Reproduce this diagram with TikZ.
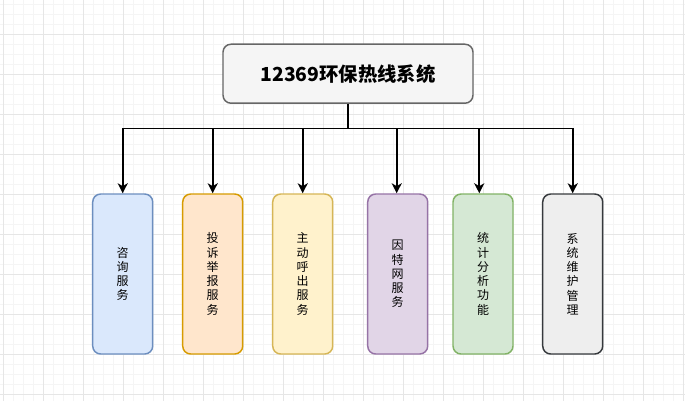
\documentclass[tikz,border=0pt]{standalone}
\usepackage{fontspec}
\newfontfamily\cjk{Noto Sans CJK SC}
\usetikzlibrary{arrows.meta}
\definecolor{topfill}{HTML}{F5F5F5}\definecolor{topline}{HTML}{666666}
\definecolor{bfill}{HTML}{DAE8FC}\definecolor{bline}{HTML}{6C8EBF}
\definecolor{ofill}{HTML}{FFE6CC}\definecolor{oline}{HTML}{D79B00}
\definecolor{yfill}{HTML}{FFF2CC}\definecolor{yline}{HTML}{D6B656}
\definecolor{pfill}{HTML}{E1D5E7}\definecolor{pline}{HTML}{9673A6}
\definecolor{gfill}{HTML}{D5E8D4}\definecolor{gline}{HTML}{82B366}
\definecolor{kfill}{HTML}{EEEEEE}\definecolor{kline}{HTML}{36393D}
\definecolor{gridminor}{HTML}{F5F5F5}\definecolor{gridmajor}{HTML}{E6E6E6}
\tikzset{
  topbox/.style={draw=topline, fill=topfill, line width=1.1pt, rounded corners=6pt,
    minimum width=187.5pt, minimum height=44.25pt, inner sep=0pt,
    font=\cjk\bfseries\fontsize{14.5}{17}\selectfont},
  subbox/.style={line width=1.1pt, rounded corners=6pt,
    minimum width=45pt, minimum height=120pt, inner sep=0pt, align=center,
    font=\cjk\fontsize{9}{10.7}\selectfont},
  link/.style={line width=1.4pt, black},
  arr/.style={link, -{Stealth[length=7.5pt,width=7.5pt,inset=2.2pt]}}
}
\begin{document}
\begin{tikzpicture}[x=0.75pt,y=-0.75pt]
\useasboundingbox (0,0) rectangle (685,401);
\fill[white] (0,0) rectangle (685,401);
\foreach \x in {3,13,...,683} \draw[gridminor,line width=0.75pt] (\x,0) -- (\x,401);
\foreach \y in {4,14,...,400} \draw[gridminor,line width=0.75pt] (0,\y) -- (685,\y);
\foreach \x in {3,43,...,683} \draw[gridmajor,line width=0.75pt] (\x,0) -- (\x,401);
\foreach \y in {34,74,...,400} \draw[gridmajor,line width=0.75pt] (0,\y) -- (685,\y);

\node[topbox] (top) at (348,73.7) {12369环保热线系统};

\node[subbox, draw=bline, fill=bfill] (b1) at (122.7,274) {咨\\询\\服\\务};
\node[subbox, draw=oline, fill=ofill] (b2) at (212.7,274) {投\\诉\\举\\报\\服\\务};
\node[subbox, draw=yline, fill=yfill] (b3) at (302.7,274) {主\\动\\呼\\出\\服\\务};
\node[subbox, draw=pline, fill=pfill] (b4) at (397.7,274) {因\\特\\网\\服\\务};
\node[subbox, draw=gline, fill=gfill] (b5) at (483,274) {统\\计\\分\\析\\功\\能};
\node[subbox, draw=kline, fill=kfill] (b6) at (572.7,274) {系\\统\\维\\护\\管\\理};

\coordinate (hub) at (348,128.5);
\draw[link] (top.south) -- (hub);
\draw[arr] (hub) -| (b1.north);
\draw[arr] (hub) -| (b2.north);
\draw[arr] (hub) -| (b3.north);
\draw[arr] (hub) -| ([xshift=-0.75pt]b4.north);
\draw[arr] (hub) -| ([xshift=-2.8pt]b5.north);
\draw[arr] (hub) -| (b6.north);
\end{tikzpicture}
\end{document}
